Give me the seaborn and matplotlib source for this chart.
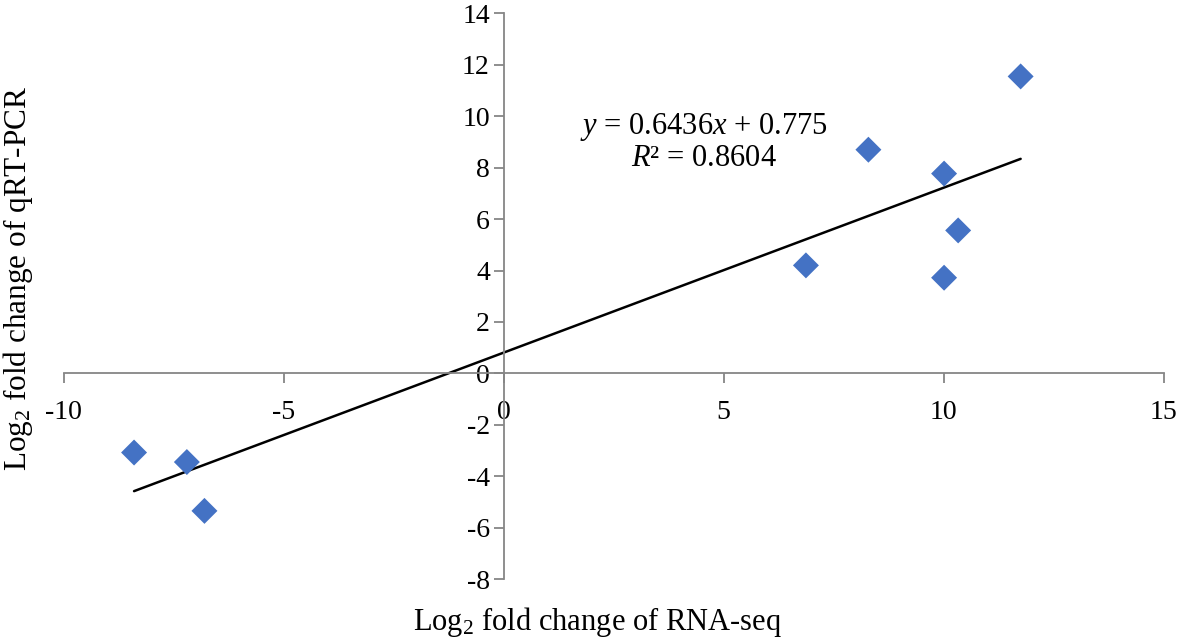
import pandas as pd
import matplotlib
matplotlib.use('Agg')
import matplotlib.pyplot as plt
import seaborn as sns

# log2 fold changes
rna_seq = [-8.4, -7.2, -6.8, 6.87, 8.29, 10.01, 10.01, 10.33, 11.75]
qrt_pcr = [-3.08, -3.45, -5.35, 4.20, 8.70, 7.77, 3.72, 5.56, 11.55]

x_ticks = [-10, -5, 0, 5, 10, 15]
y_ticks = [-8, -6, -4, -2, 0, 2, 4, 6, 8, 10, 12, 14]

df = pd.DataFrame({'RNA-seq': rna_seq, 'qRT-PCR': qrt_pcr})

sns.set_style('ticks')
plt.rcParams['font.family'] = ['Liberation Serif', 'DejaVu Serif']
plt.rcParams['mathtext.fontset'] = 'custom'
plt.rcParams['mathtext.rm'] = 'Liberation Serif'
plt.rcParams['mathtext.it'] = 'Liberation Serif:italic'
plt.rcParams['axes.unicode_minus'] = False
plt.rcParams['text.color'] = 'black'

fig = plt.figure(figsize=(11.81, 6.4), dpi=100)
ax = fig.add_axes([0.0539, 0.0953, 0.9314, 0.8837])

sns.regplot(x='RNA-seq', y='qRT-PCR', data=df, ci=None, marker='D', ax=ax,
            scatter_kws={'s': 175, 'color': '#4472C4', 'alpha': 1, 'edgecolors': 'none', 'zorder': 3},
            line_kws={'color': 'black', 'linewidth': 1.8, 'zorder': 2})

ax.set_xlim(-10, 15)
ax.set_ylim(-8, 14)
ax.set_xticks(x_ticks)
ax.set_yticks(y_ticks)

# axes crossing at the origin, like the spreadsheet chart
for side in ['top', 'right']:
    ax.spines[side].set_visible(False)
ax.spines['left'].set_position(('data', 0))
ax.spines['bottom'].set_position(('data', 0))
for side in ['left', 'bottom']:
    ax.spines[side].set_color('#868686')
    ax.spines[side].set_linewidth(1.3)

ax.tick_params(axis='both', direction='out', length=7, width=1.3, color='#868686',
               labelsize=20, labelcolor='black', bottom=True, left=True)
ax.tick_params(axis='x', pad=12)
ax.tick_params(axis='y', pad=3)

ax.set_xlabel('')
ax.set_ylabel('')
fig.text(0.506, 0.028, r'Log$_2$ fold change of RNA-seq', ha='center', va='center', fontsize=22)
fig.text(0.015, 0.565, r'Log$_2$ fold change of qRT-PCR', ha='center', va='center',
         rotation='vertical', fontsize=22.5)

ax.text(4.55, 9.6, r'$y$ = 0.6436$x$ + 0.775', ha='center', va='center', fontsize=22)
ax.text(4.55, 8.35, r'$R$² = 0.8604', ha='center', va='center', fontsize=22)

fig.savefig('out.png', dpi=100)
